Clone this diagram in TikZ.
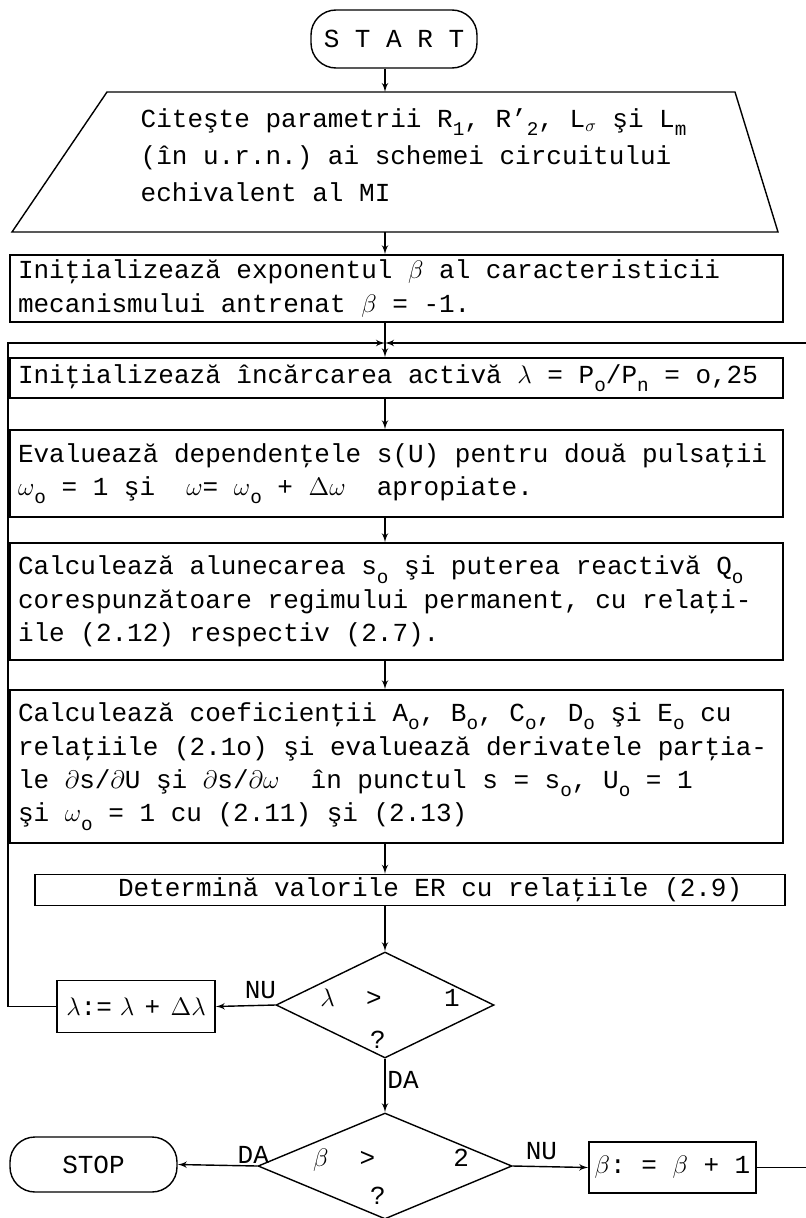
\documentclass[tikz,border=0pt]{standalone}
\usepackage{fontspec}
\setmainfont{Liberation Mono}
\usepackage{tikz}
\usetikzlibrary{arrows,calc,positioning,shapes.geometric}
\newcommand{\arrtip}{latex'}
\newcommand*{\ix}[1]{\raisebox{-0.6ex}{\fontsize{11}{11}\selectfont #1}}

\begin{document}
\begin{tikzpicture}[thick,>=\arrtip,
  every node/.style={font=\fontsize{14.8}{19}\selectfont,
    execute at begin node={\spaceskip=0.6em\xspaceskip=0.6em\relax}},
  proc/.style={draw,rectangle,text width=15.14cm,inner xsep=0.16cm,inner ysep=0pt,align=left},
  term/.style={draw,rectangle,rounded corners=0.5cm,minimum width=3.32cm,minimum height=1.16cm},
  decide/.style={draw,diamond,inner sep=0pt},
  upd/.style={draw,rectangle,minimum width=3.16cm,minimum height=1.04cm,inner sep=2pt}]
\useasboundingbox (0,0) rectangle (16.1,-24.36);
\coordinate (ax) at (7.7,0);
\coordinate (lx) at (0.16,0);
\coordinate (rx) at (16.14,0);
\node[term] (start) at (7.88,-0.78) {S T A R T};
\coordinate (rdtop) at (7.7,-1.84);
\coordinate (rdbot) at (7.7,-4.64);
\draw (0.24,-4.64) -- (2.14,-1.84) -- (14.7,-1.84) -- (15.56,-4.64) -- cycle;
\node[anchor=west,text width=12cm,align=left,inner sep=0pt,font=\fontsize{14.8}{21}\selectfont] (rd) at (2.8,-3.1)
  {Citeşte parametrii R\ix{1}, R'\ix{2}, L$_\sigma$ şi L\ix{m}\\(în u.r.n.) ai schemei circuitului\\echivalent al MI};
\node[proc,minimum height=1.34cm] (b2) at (7.93,-5.77)
  {Iniţializează exponentul $\beta$ al caracteristicii\\mecanismului antrenat $\beta$ = -1.};
\coordinate (jn) at (7.7,-6.86);
\node[proc,minimum height=0.8cm] (b3) at (7.93,-7.56)
  {Iniţializează încărcarea activă $\lambda$ = P\ix{o}/P\ix{n} = o,25};
\node[proc,minimum height=1.74cm] (b4) at (7.93,-9.47)
  {Evaluează dependenţele s(U) pentru două pulsaţii\\$\omega$\ix{o} = 1 şi\ \ $\omega$= $\omega$\ix{o} + $\Delta\omega$\ \ apropiate.};
\node[proc,minimum height=2.34cm] (b5) at (7.93,-12.03)
  {Calculează alunecarea s\ix{o} şi puterea reactivă Q\ix{o}\\corespunzătoare regimului permanent, cu relaţi-\\ile (2.12) respectiv (2.7).};
\node[proc,minimum height=3.06cm] (b6) at (7.93,-15.33)
  {Calculează coeficienţii A\ix{o}, B\ix{o}, C\ix{o}, D\ix{o} şi E\ix{o} cu\\relaţiile (2.1o) şi evaluează derivatele parţia-\\le $\partial$s/$\partial$U şi $\partial$s/$\partial\omega$\ \ în punctul s = s\ix{o}, U\ix{o} = 1\\şi $\omega$\ix{o} = 1 cu (2.11) şi (2.13)};
\node[proc,text width=14.68cm,minimum height=0.62cm] (b7) at (8.2,-17.8)
  {\hspace*{1.5cm}Determină valorile ER cu relaţiile (2.9)};
\node[decide,minimum width=4.36cm,minimum height=2.12cm] (d1) at (7.7,-20.1) {};
\node (d1t) at (7.8,-19.96) {{\Large$\lambda$}\ \ >\ \ \ \ 1};
\node (d1q) at (7.56,-20.8) {?};
\node[upd] (lb) at (2.72,-20.13) {$\lambda$:=\hspace{.3em}$\lambda$\hspace{.4em}+\hspace{.4em}$\Delta\lambda$};
\node[decide,minimum width=5.08cm,minimum height=2.12cm] (d2) at (7.7,-23.32) {};
\node (d2t) at (7.82,-23.2) {{\Large$\beta$}\ \ >\ \ \ \ \ 2};
\node (d2q) at (7.56,-23.92) {?};
\node[term,minimum width=3.34cm,minimum height=1.1cm] (stop) at (1.87,-23.29) {STOP};
\node[upd,minimum width=3.34cm,minimum height=1.02cm] (bb) at (13.45,-23.35) {$\beta$: = $\beta$ + 1};
\draw[->] (ax |- start.south) to (rdtop);
\draw[->] (rdbot) to (ax |- b2.north);
\draw (ax |- b2.south) to (jn);
\draw[->] (jn) to (ax |- b3.north);
\draw[->] (ax |- b3.south) to (ax |- b4.north);
\draw[->] (ax |- b4.south) to (ax |- b5.north);
\draw[->] (ax |- b5.south) to (ax |- b6.north);
\draw[->] (ax |- b6.south) to (ax |- b7.north);
\draw[->] (ax |- b7.south) to (d1.north);
\draw[->] (d1.west) to node[above,pos=.25] {NU} (lb.east);
\draw[->] (lb.west) -- (lb.west -| lx) |- (jn);
\draw[->] (d1.south) to node[right,pos=.4,inner sep=1pt] {DA} (d2.north);
\draw[->] (d2.west) to node[above,pos=.05,inner sep=1pt] {DA} (stop.east);
\draw[->] (d2.east) to node[above,pos=.38] {NU} (bb.west);
\draw[->] (bb.east) -- (bb.east -| rx) |- (jn);
\end{tikzpicture}
\end{document}
